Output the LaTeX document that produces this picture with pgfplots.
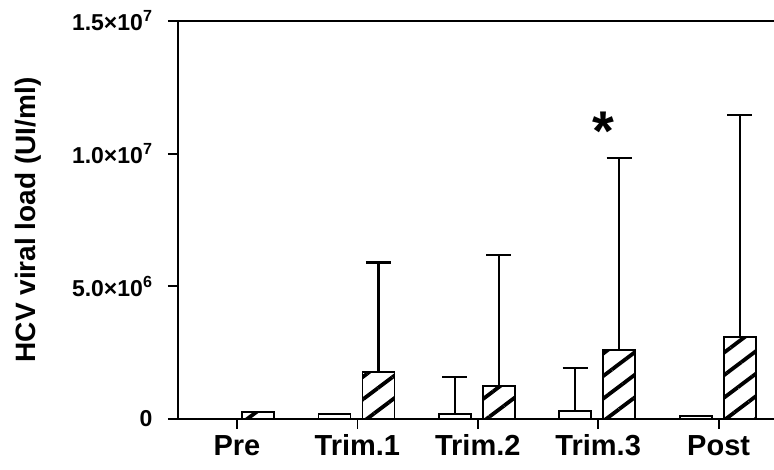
\documentclass[border=0pt]{standalone}
\usepackage{fontspec}
\setmainfont{Liberation Sans}
\usepackage{pgfplots}
\usepackage{pgfplotstable}
\pgfplotsset{compat=1.18}
\usetikzlibrary{patterns.meta}

% white bars (first group), hatched bars (second group)
\pgfplotstableread{
x y
1 0
2 180000
5 125000
}\whiteplain
\pgfplotstableread{
x y e
3 180000 1390000
4 300000 1620000
}\whiteerr
\pgfplotstableread{
x y
1 250000
}\hatchplain
\pgfplotstableread{
x y e
2 1760000 4140000
3 1250000 4930000
4 2610000 7220000
5 3100000 8350000
}\hatcherr

\begin{document}
\begin{tikzpicture}
\begin{axis}[
    scale only axis,
    width=596pt, height=398pt,
    xmin=0.51, xmax=5.46,
    ymin=0, ymax=15000000,
    ybar, bar width=32pt,
    axis x line*=bottom,
    axis y line*=left,
    axis line style={line width=1.8pt},
    clip=false,
    xtick={1,2,3,4,5},
    xticklabels={Pre,Trim.1,Trim.2,Trim.3,Post},
    ytick={0,5000000,10000000,15000000},
    yticklabels={0,5.0×10\textsuperscript{6},1.0×10\textsuperscript{7},1.5×10\textsuperscript{7}},
    scaled y ticks=false,
    tick align=outside,
    major tick length=10pt,
    tick style={line width=1.8pt,black},
    yticklabel style={font=\fontsize{23}{25}\selectfont\bfseries, xshift=-12pt},
    xticklabel style={font=\fontsize{29}{31}\selectfont\bfseries, text height=21pt, text depth=0pt, yshift=-2pt},
    ylabel={HCV viral load (UI/ml)},
    every axis y label/.style={at={(axis description cs:-0.252,0.5)},rotate=90,anchor=center,
        font=\fontsize{28}{30}\selectfont\bfseries},
    error bars/y dir=plus,
    error bars/y explicit,
    error bars/error bar style={line width=2.2pt,black},
    error bars/error mark options={rotate=90,mark size=12.5pt,line width=2.2pt,black},
]
\addplot[bar shift=-23pt, fill=white, draw=black, line width=1.8pt]
    table[x=x,y=y] {\whiteplain};
\addplot[bar shift=-23pt, fill=white, draw=black, line width=1.8pt,
    error bars/error bar style={line width=2.2pt}]
    table[x=x,y=y,y error=e] {\whiteerr};
\addplot[bar shift=21pt, draw=black, line width=1.8pt,
    pattern={Lines[angle=37,distance=18pt,line width=3.8pt]}]
    table[x=x,y=y] {\hatchplain};
\addplot[bar shift=21pt, draw=black, line width=1.8pt,
    pattern={Lines[angle=37,distance=18pt,line width=3.8pt]},
    error bars/error bar style={line width=2.2pt}]
    table[x=x,y=y,y error=e] {\hatcherr};
\draw[line width=1.8pt] (rel axis cs:0,1) -- (rel axis cs:1,1);
\node[font=\fontsize{56}{56}\selectfont\bfseries] at (axis cs:4.04,10850000) {*};
\coordinate (bl) at (rel axis cs:0,0);
\end{axis}
\pgfresetboundingbox
\path[use as bounding box] ([shift={(-178pt,-51pt)}]bl) rectangle ([shift={(596pt,419pt)}]bl);
\end{tikzpicture}
\end{document}
